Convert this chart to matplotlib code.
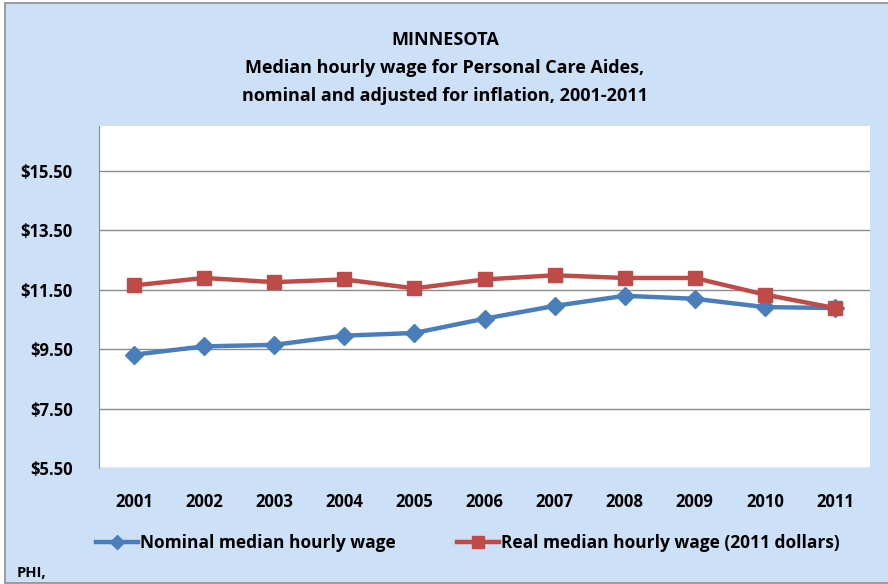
import matplotlib
matplotlib.use('Agg')
import matplotlib.pyplot as plt
from matplotlib.patches import Rectangle

# data
years = [2001, 2002, 2003, 2004, 2005, 2006, 2007, 2008, 2009, 2010, 2011]
nominal = [9.31, 9.59, 9.64, 9.95, 10.04, 10.52, 10.95, 11.29, 11.19, 10.91, 10.88]
real = [11.64, 11.89, 11.75, 11.84, 11.54, 11.84, 11.98, 11.89, 11.89, 11.33, 10.88]
y_ticks = [5.5, 7.5, 9.5, 11.5, 13.5, 15.5]
y_labels = ['$5.50', '$7.50', '$9.50', '$11.50', '$13.50', '$15.50']
title_lines = ['MINNESOTA',
               'Median hourly wage for Personal Care Aides,',
               'nominal and adjusted for inflation, 2001-2011']
nominal_label = 'Nominal median hourly wage'
real_label = 'Real median hourly wage (2011 dollars)'

plt.rcParams['font.family'] = ['Open Sans', 'DejaVu Sans']
bg = '#CCE0F8'
blue = '#4A7EBB'
red = '#BE4B48'

fig = plt.figure(figsize=(8.88, 5.84), dpi=100)
fig.patch.set_facecolor('white')
# light blue chart area with grey border
fig.patches.append(Rectangle((5 / 888, 1 - 583 / 584), 1, 580 / 584, transform=fig.transFigure,
                             facecolor=bg, edgecolor='#8C8C8C', linewidth=1.2, zorder=-1))

# plot area in pixel coordinates
left, right, top, bottom = 99, 870, 126, 468
ax = fig.add_axes([left / 888, 1 - bottom / 584, (right - left) / 888, (bottom - top) / 584])
ax.set_zorder(2)
ax.set_facecolor('white')

x = range(len(years))
ax.plot(x, nominal, color=blue, linewidth=3.2, marker='D', markersize=9, label=nominal_label,
        zorder=3, clip_on=False)
ax.plot(x, real, color=red, linewidth=3.2, marker='s', markersize=10, label=real_label,
        zorder=4, clip_on=False)

ax.set_xlim(-0.5, len(years) - 0.5)
ax.set_ylim(5.5, 17.0)
ax.set_yticks(y_ticks)
ax.set_yticklabels(y_labels, fontsize=12, fontweight='bold')
ax.set_xticks(list(x))
ax.set_xticklabels([str(y) for y in years], fontsize=12, fontweight='bold')
ax.tick_params(length=0)
ax.tick_params(axis='y', pad=19)
ax.tick_params(axis='x', pad=18)
ax.grid(axis='y', color='#8C8C8C', linewidth=1)
ax.set_axisbelow(True)
for s in ['top', 'right', 'bottom']:
    ax.spines[s].set_visible(False)
ax.spines['left'].set_color('#8C8C8C')

# title, one line at a time to match the spacing
for i, line in enumerate(title_lines):
    fig.text(445 / 888, 1 - (40 + 28 * i) / 584, line, ha='center', va='center',
             fontsize=13, fontweight='bold')

leg = fig.legend(loc='center', bbox_to_anchor=(468 / 888, 1 - 543 / 584), ncol=2, frameon=False,
                 prop={'size': 12.5, 'weight': 'bold'}, handlelength=2.4, columnspacing=3.5,
                 handletextpad=0.15, markerscale=0.8)

fig.text(17 / 888, 1 - 573 / 584, 'PHI,', fontsize=10.5, fontweight='bold', va='center')

fig.savefig('out.png', dpi=100, facecolor=fig.get_facecolor())
